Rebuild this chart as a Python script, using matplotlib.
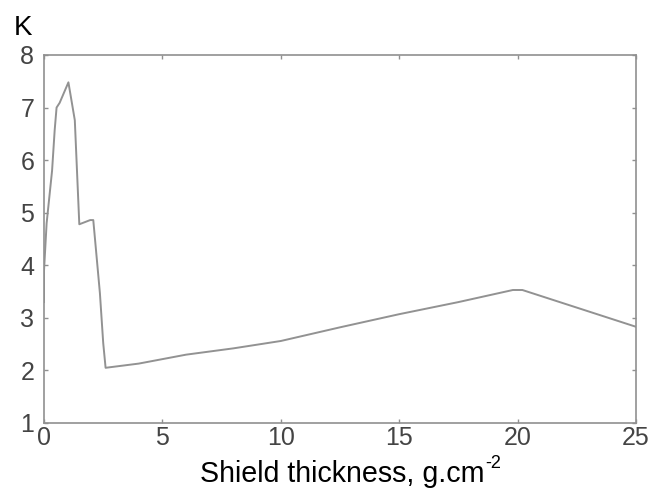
import matplotlib
matplotlib.use("Agg")
import matplotlib.pyplot as plt

plt.rcParams['font.family'] = ['Liberation Sans', 'DejaVu Sans']

thickness = [0.0, 0.0, 0.11, 0.34, 0.45, 0.53, 0.66, 1.03, 1.3, 1.49, 1.95, 2.08, 2.36, 2.5, 2.6,
             4.0, 6.0, 8.0, 10.0, 12.5, 15.0, 17.5, 19.8, 20.2, 25.0]
k_values = [3.3, 3.9, 4.8, 5.8, 6.57, 7.0, 7.09, 7.48, 6.76, 4.78, 4.86, 4.86, 3.47, 2.52, 2.05,
            2.13, 2.3, 2.42, 2.56, 2.82, 3.07, 3.3, 3.53, 3.53, 2.83]
x_ticks = [0, 5, 10, 15, 20, 25]
y_ticks = [1, 2, 3, 4, 5, 6, 7, 8]

W, H = 658, 488
fig = plt.figure(figsize=(W / 100, H / 100), dpi=100)
ax = fig.add_axes([0.0669, 0.1332, 0.8997, 0.7541])
ax.plot(thickness, k_values, color='#929292', linewidth=1.4)
ax.set_xlim(0, 25)
ax.set_ylim(1, 8)
ax.set_xticks(x_ticks)
ax.set_yticks(y_ticks)
for s in ax.spines.values():
    s.set_color('#909090')
    s.set_linewidth(1.2)
ax.tick_params(direction='in', length=3, width=1, color='#909090',
               top=True, right=True, labelsize=18, labelcolor='#444444')
ax.tick_params(axis='x', pad=2)
ax.tick_params(axis='y', pad=7)

# x-axis label with a raised "-2"
lab = fig.text(200 / W, 6 / H, 'Shield thickness, g.cm', fontsize=20.6, color='black',
               ha='left', va='baseline')
fig.canvas.draw()
bb = lab.get_window_extent()
fig.text((bb.x1 + 1) / W, 20 / H, '-2', fontsize=13, color='black', ha='left', va='baseline')

fig.text(14 / W, 1 - 35 / H, 'K', fontsize=20, color='black')
fig.savefig('out.png', dpi=100)
